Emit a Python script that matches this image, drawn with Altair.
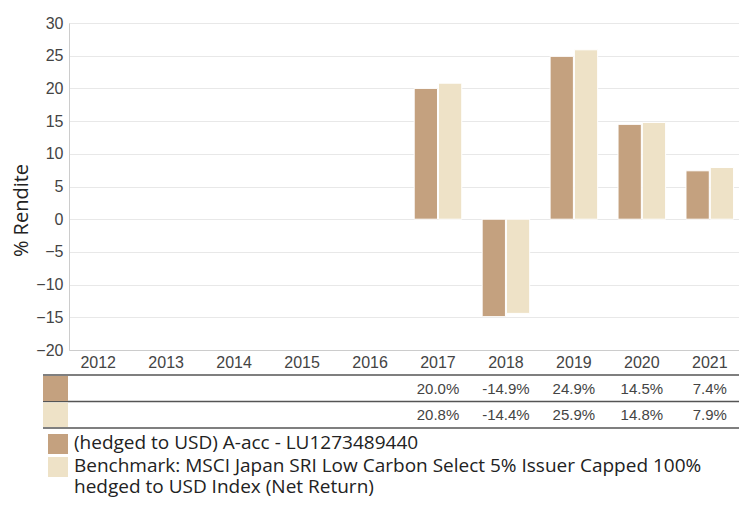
import altair as alt
import pandas as pd

years = ["2012", "2013", "2014", "2015", "2016", "2017", "2018", "2019", "2020", "2021"]
series = ["(hedged to USD) A-acc - LU1273489440",
          "Benchmark: MSCI Japan SRI Low Carbon Select 5% Issuer Capped 100% hedged to USD Index (Net Return)"]
fund_years = ["2017", "2018", "2019", "2020", "2021"]
fund_values = [20.0, -14.9, 24.9, 14.5, 7.4]
bench_values = [20.8, -14.4, 25.9, 14.8, 7.9]
colors = ["#c4a17f", "#eee2c7"]

rows = []
for y, v in zip(fund_years, fund_values):
    rows.append({"year": y, "series": series[0], "value": v})
for y, v in zip(fund_years, bench_values):
    rows.append({"year": y, "series": series[1], "value": v})
df = pd.DataFrame(rows)
df["label"] = df["value"].map(lambda v: f"{v:.1f}%")

W, H = 670, 327
xscale = alt.Scale(domain=years, paddingInner=0.3, paddingOuter=0.08)
cscale = alt.Scale(domain=series, range=colors)

bars = alt.Chart(df).mark_bar(stroke="white", strokeWidth=1).encode(
    x=alt.X("year:N", scale=xscale,
            axis=alt.Axis(title=None, labelAngle=0, ticks=False, labelPadding=4,
                          labelFont="Liberation Sans", labelFontSize=16, labelColor="#444",
                          domainColor="#cccccc", grid=False)),
    xOffset=alt.XOffset("series:N", scale=alt.Scale(domain=series, paddingInner=0.04)),
    y=alt.Y("value:Q", scale=alt.Scale(domain=[-20, 30], nice=False),
            axis=alt.Axis(title="% Rendite", values=list(range(-20, 31, 5)), ticks=False,
                          labelFont="Liberation Sans", labelFontSize=16, labelColor="#444",
                          labelPadding=6, gridColor="#e8e8e8", domainColor="#cccccc",
                          titleFont="Open Sans", titleFontSize=20, titleFontWeight="normal",
                          titleColor="#222", titleAngle=-90, titleX=-48, titleY=187,
                          titleAlign="center", titleBaseline="middle")),
    color=alt.Color("series:N", scale=cscale, legend=None),
)

def row_text(s, ypix):
    return alt.Chart(df[df["series"] == s]).mark_text(
        font="Liberation Sans", fontSize=15, color="#444", baseline="middle", align="center"
    ).encode(x=alt.X("year:N", scale=xscale), y=alt.value(ypix), text="label:N")

t1 = row_text(series[0], 366)
t2 = row_text(series[1], 392)

line_df = pd.DataFrame({"k": [0]})
def hline(ypix):
    return alt.Chart(line_df).mark_rule(color="#555", strokeWidth=1.5).encode(
        x=alt.value(-26), x2=alt.value(W), y=alt.value(ypix))

lines = hline(352) + hline(378.5) + hline(405)

sw_df = pd.DataFrame({"series": series})
def swatch(s, x0, x1, y0, y1):
    return alt.Chart(sw_df[sw_df["series"] == s]).mark_rect().encode(
        x=alt.value(x0), x2=alt.value(x1), y=alt.value(y0), y2=alt.value(y1),
        color=alt.Color("series:N", scale=cscale, legend=None))

sw = (swatch(series[0], -21, -1, 411, 431) + swatch(series[1], -21, -1, 434, 454)
      + swatch(series[0], -26, -1, 353, 378) + swatch(series[1], -26, -1, 379.5, 404))

leg_df = pd.DataFrame({"txt": ["(hedged to USD) A-acc - LU1273489440",
                               "Benchmark: MSCI Japan SRI Low Carbon Select 5% Issuer Capped 100%\nhedged to USD Index (Net Return)"]})
def legtext(i, ypix):
    return alt.Chart(leg_df.iloc[[i]]).mark_text(
        font="Open Sans", fontSize=19, color="#222", align="left", baseline="middle",
        lineBreak="\n", lineHeight=21).encode(x=alt.value(5), y=alt.value(ypix), text="txt:N")

leg = legtext(0, 420) + legtext(1, 443)

chart = alt.layer(bars, lines, sw, t1, t2, leg).properties(
    width=W, height=H,
    autosize=alt.AutoSizeParams(type="none"),
    padding={"left": 61, "top": 15, "right": 0, "bottom": 149},
).configure_view(stroke=None).configure(background="white")

chart.save("out.html", embed_options={"renderer": "svg", "actions": False})
